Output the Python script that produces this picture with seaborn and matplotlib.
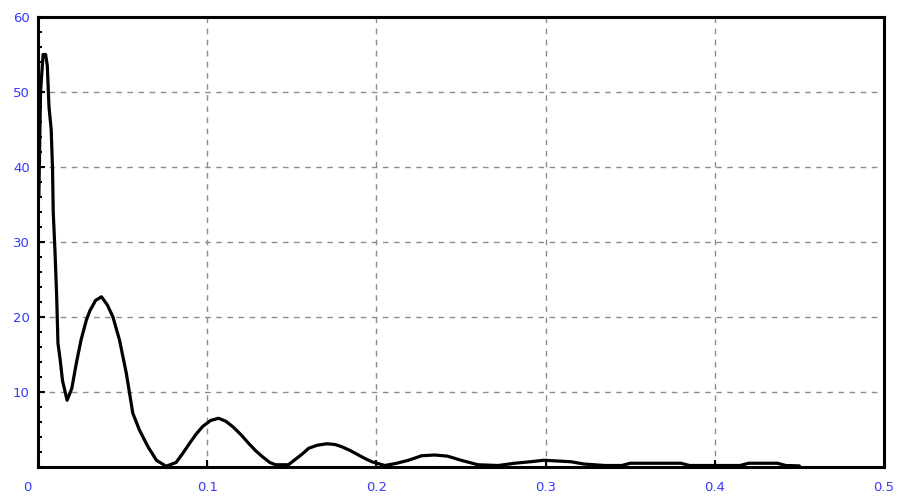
import matplotlib
matplotlib.use("Agg")
import matplotlib.pyplot as plt
import matplotlib.transforms as mtransforms
from matplotlib.ticker import MultipleLocator
import seaborn as sns
import pandas as pd

# values
freq = [0.0005, 0.0015, 0.003, 0.0045, 0.0055, 0.0065, 0.0078, 0.0086, 0.009, 0.010,
        0.011, 0.0118, 0.013, 0.0145, 0.0172, 0.020, 0.0227, 0.0255, 0.0286, 0.0306,
        0.034, 0.0375, 0.041, 0.0443, 0.0482, 0.0522, 0.056, 0.060, 0.065, 0.070,
        0.0757, 0.0816, 0.0855, 0.0894, 0.0935, 0.0973, 0.102, 0.1067, 0.111, 0.115,
        0.120, 0.1247, 0.1285, 0.1325, 0.137, 0.1404, 0.148, 0.152, 0.156, 0.160,
        0.165, 0.1708, 0.1755, 0.1796, 0.1845, 0.1894, 0.1935, 0.1973, 0.205, 0.212,
        0.219, 0.2267, 0.2345, 0.242, 0.250, 0.260, 0.272, 0.2816, 0.291, 0.299,
        0.307, 0.315, 0.3225, 0.335, 0.345, 0.350, 0.380, 0.385, 0.415, 0.420,
        0.437, 0.442, 0.450]
amp = [36, 50, 55, 55, 53.5, 48, 45, 39.6, 34, 29,
       23, 16.5, 14.5, 11.5, 8.9, 10.5, 13.9, 17, 19.6, 20.8,
       22.2, 22.7, 21.6, 20.0, 16.9, 12.5, 7.2, 4.9, 2.7, 0.9,
       0.1, 0.6, 1.8, 3.1, 4.4, 5.4, 6.2, 6.5, 6.1, 5.4,
       4.3, 3.1, 2.2, 1.4, 0.6, 0.3, 0.3, 1.0, 1.7, 2.5,
       2.9, 3.1, 3.0, 2.7, 2.2, 1.6, 1.1, 0.7, 0.2, 0.5,
       0.9, 1.5, 1.6, 1.45, 0.9, 0.3, 0.2, 0.5, 0.7, 0.9,
       0.8, 0.7, 0.4, 0.2, 0.2, 0.5, 0.5, 0.2, 0.2, 0.5,
       0.5, 0.2, 0.15]

x_ticks = [0, 0.1, 0.2, 0.3, 0.4, 0.5]
x_labels = ["0", "0.1", "0.2", "0.3", "0.4", "0.5"]
y_ticks = [10, 20, 30, 40, 50, 60]
y_labels = ["10", "20", "30", "40", "50", "60"]

df = pd.DataFrame({"freq": freq, "amp": amp})

sns.set_style("white")
plt.rcParams["font.family"] = ["DejaVu Sans"]

fig = plt.figure(figsize=(9.07, 4.97), dpi=100)
ax = fig.add_axes([38 / 907, 30 / 497, 846 / 907, 450 / 497])

sns.lineplot(data=df, x="freq", y="amp", color="black", linewidth=2.3,
             sort=False, ax=ax, zorder=3)

ax.set_xlim(0, 0.5)
ax.set_ylim(0, 60)
ax.set_xticks(x_ticks)
ax.set_xticklabels(x_labels)
ax.set_yticks(y_ticks)
ax.set_yticklabels(y_labels)
ax.yaxis.set_minor_locator(MultipleLocator(2))
ax.set_xlabel("")
ax.set_ylabel("")

ax.grid(True, which="major", color="#8c8c8c", linestyle=(0, (4, 4)), linewidth=1.0)
ax.tick_params(axis="both", which="major", direction="in", length=5, width=1.5,
               bottom=True, left=True, top=False, right=False,
               colors="black", labelcolor="#3838ff", labelsize=9.5, pad=6)
ax.tick_params(axis="x", which="major", pad=10)
ax.tick_params(axis="y", which="minor", direction="in", length=3, width=1.5,
               left=True, right=False, colors="black")
ax.tick_params(axis="x", which="minor", length=0)

for s in ax.spines.values():
    s.set_color("black")
    s.set_linewidth(2.2)
    s.set_visible(True)
    s.set_zorder(4)

# the "0" label sits a little to the left of the axis in the reference
lab0 = ax.get_xticklabels()[0]
lab0.set_transform(lab0.get_transform() + mtransforms.ScaledTranslation(-11 / 100, 0, fig.dpi_scale_trans))

fig.savefig("out.png", dpi=100)
